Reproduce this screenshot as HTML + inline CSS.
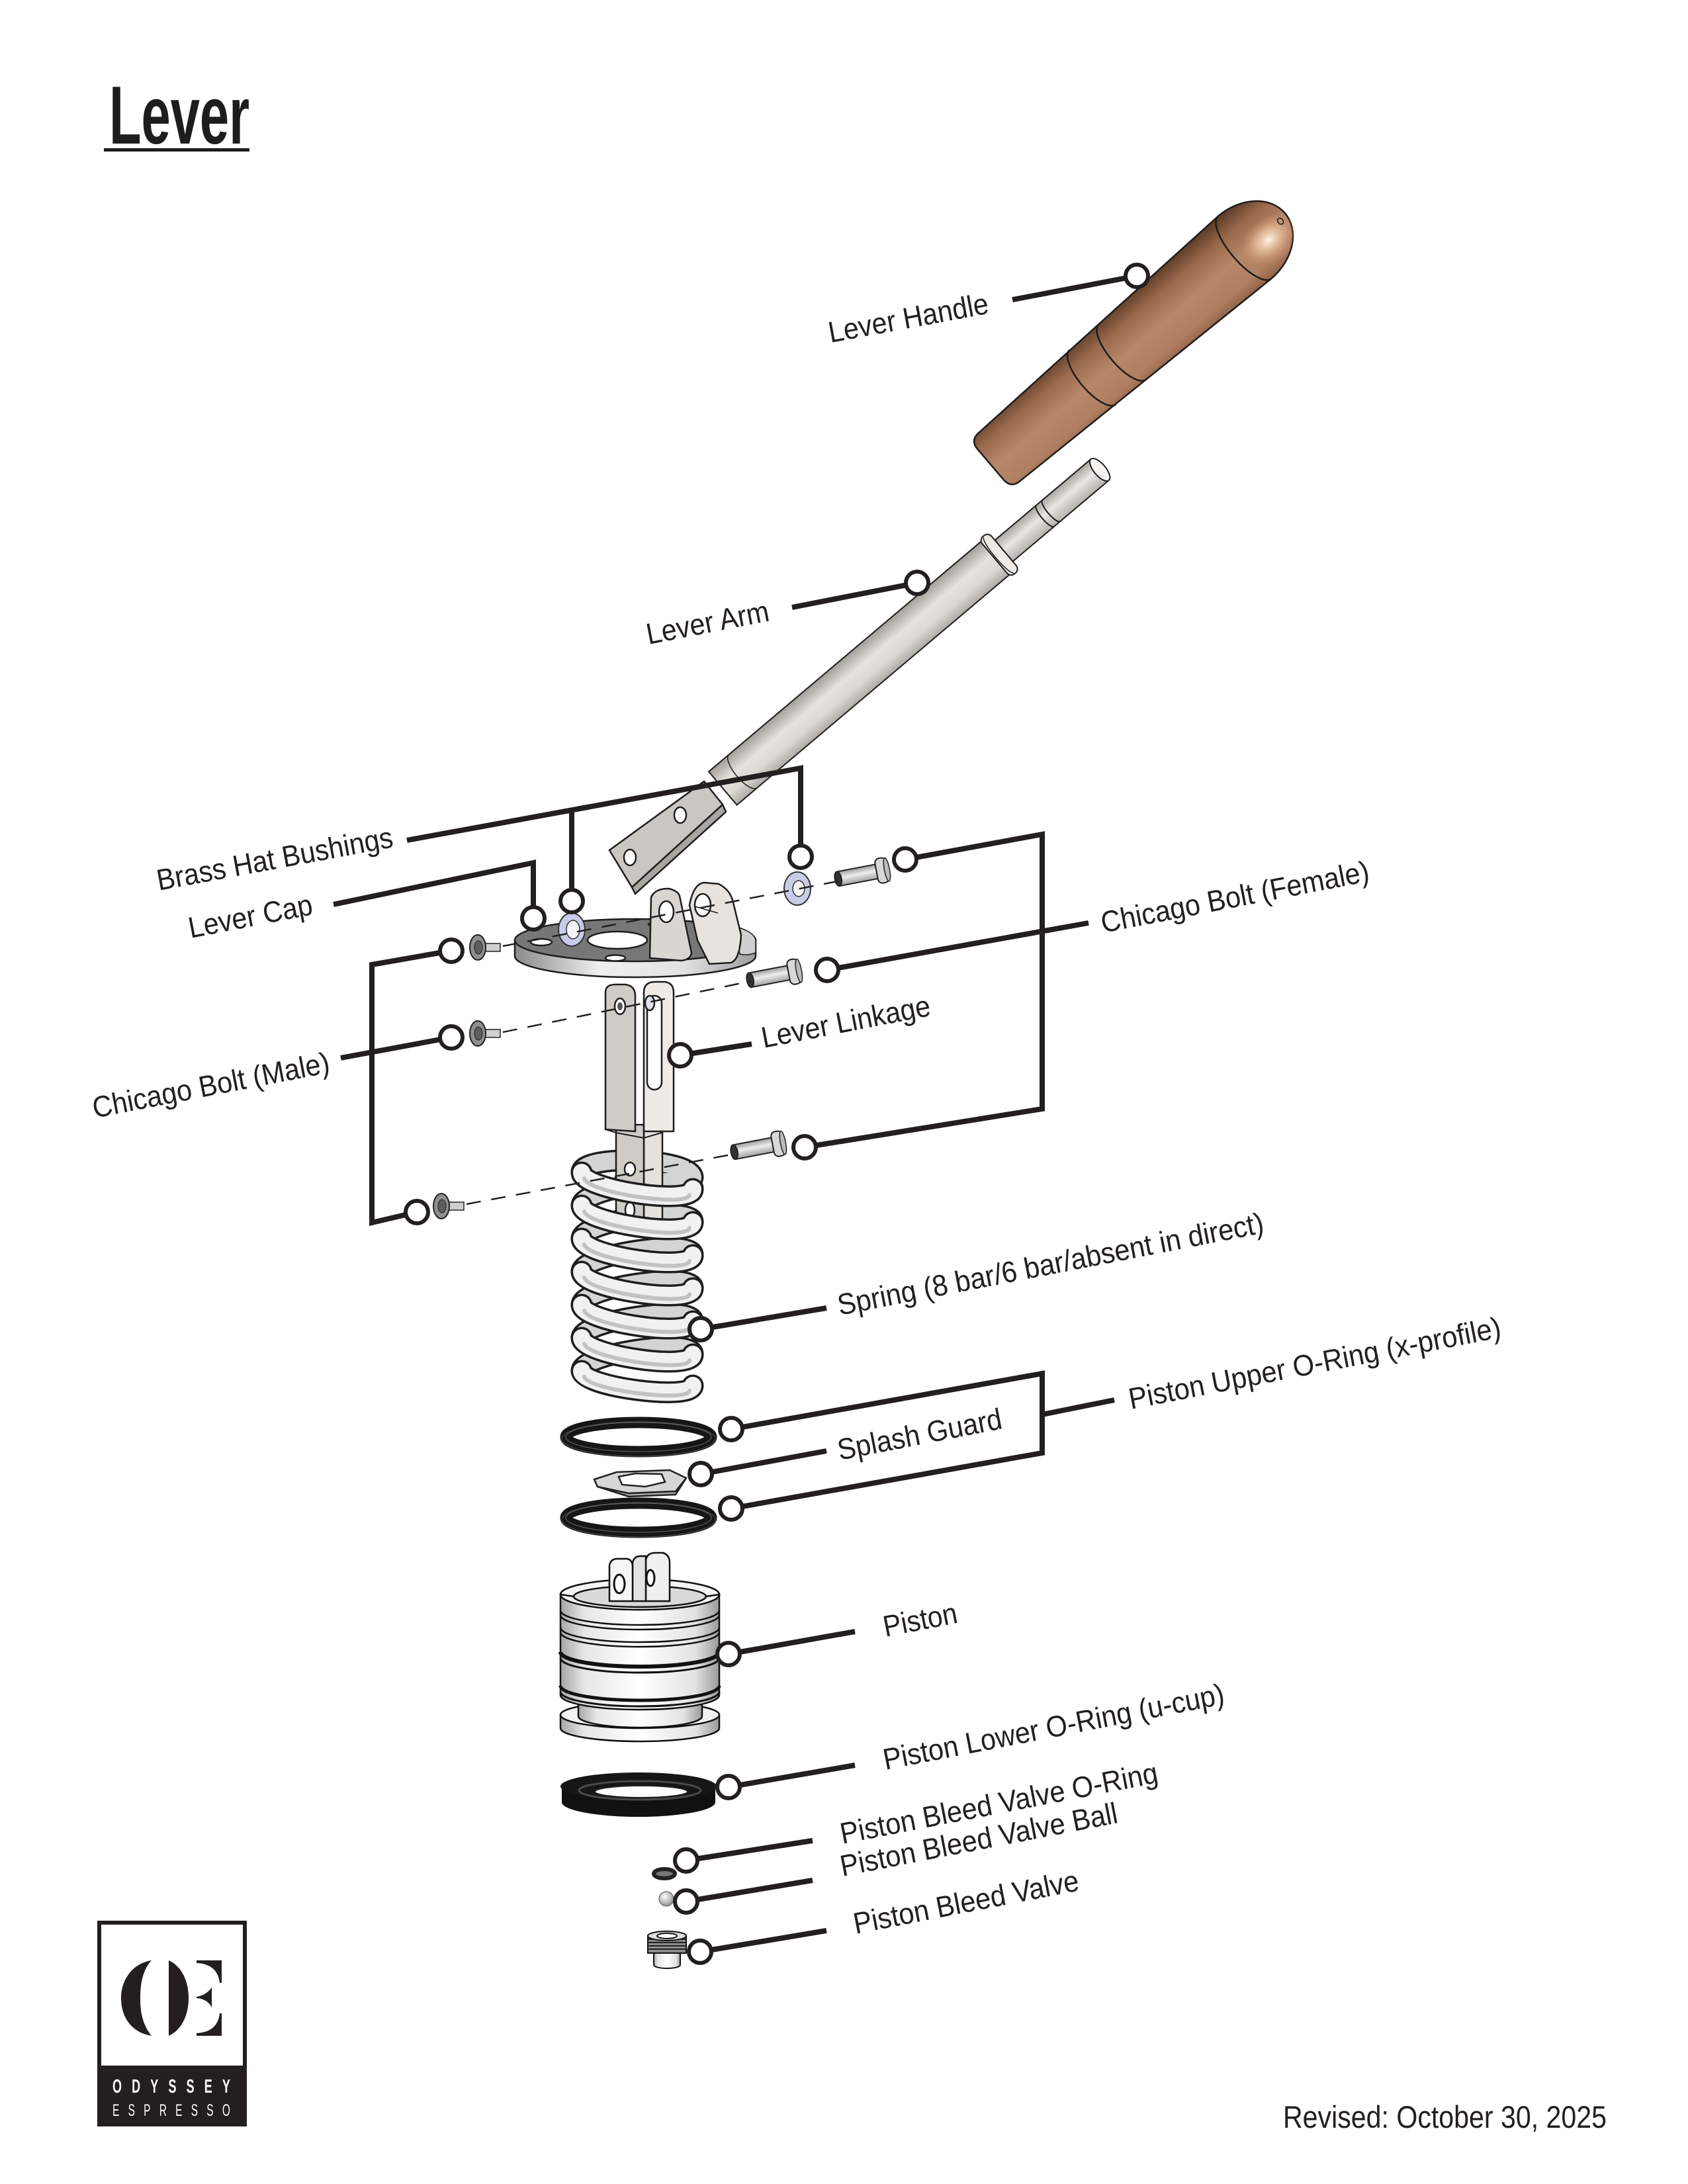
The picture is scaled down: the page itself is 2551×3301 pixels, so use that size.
<!DOCTYPE html>
<html><head><meta charset="utf-8"><title>Lever</title>
<style>html,body{margin:0;padding:0;background:#fff}svg{display:block}</style></head>
<body>
<svg xmlns="http://www.w3.org/2000/svg" width="2551" height="3301" viewBox="0 0 2551 3301">
<defs>
<linearGradient id="wood" gradientUnits="userSpaceOnUse" x1="0" y1="-60" x2="0" y2="60">
<stop offset="0" stop-color="#5f3c28"/><stop offset="0.25" stop-color="#99694b"/><stop offset="0.55" stop-color="#b8876a"/><stop offset="0.85" stop-color="#b07f61"/><stop offset="1" stop-color="#94644a"/></linearGradient>
<radialGradient id="hl" cx="0.5" cy="0.5" r="0.5"><stop offset="0" stop-color="#fff4e6" stop-opacity="1"/><stop offset="0.5" stop-color="#f0c4a0" stop-opacity="0.6"/><stop offset="1" stop-color="#c9916c" stop-opacity="0"/></radialGradient>
<linearGradient id="steel" gradientUnits="userSpaceOnUse" x1="0" y1="-33" x2="0" y2="33">
<stop offset="0" stop-color="#a29e98"/><stop offset="0.4" stop-color="#e6e3df"/><stop offset="0.7" stop-color="#dcd9d4"/><stop offset="1" stop-color="#aeaaa4"/></linearGradient>
<linearGradient id="steel2" gradientUnits="userSpaceOnUse" x1="0" y1="-21" x2="0" y2="21">
<stop offset="0" stop-color="#a9a59f"/><stop offset="0.45" stop-color="#e9e7e3"/><stop offset="1" stop-color="#b4b0aa"/></linearGradient>
<linearGradient id="cylH" x1="0" y1="0" x2="1" y2="0">
<stop offset="0" stop-color="#a5a5a5"/><stop offset="0.15" stop-color="#e6e6e6"/><stop offset="0.5" stop-color="#ffffff"/><stop offset="0.85" stop-color="#e2e2e2"/><stop offset="1" stop-color="#9a9a9a"/></linearGradient>
<linearGradient id="capRim" x1="0" y1="0" x2="1" y2="0">
<stop offset="0" stop-color="#8a8a8a"/><stop offset="0.35" stop-color="#efefef"/><stop offset="0.7" stop-color="#e2e2e2"/><stop offset="1" stop-color="#9d9d9d"/></linearGradient>
<linearGradient id="boltG" gradientUnits="userSpaceOnUse" x1="0" y1="-11" x2="0" y2="11">
<stop offset="0" stop-color="#9a9a9a"/><stop offset="0.45" stop-color="#eeeeee"/><stop offset="1" stop-color="#a0a0a0"/></linearGradient>
<radialGradient id="ball" cx="0.4" cy="0.35" r="0.6"><stop offset="0" stop-color="#ffffff"/><stop offset="1" stop-color="#9a9a9a"/></radialGradient>
</defs>

<!-- Title -->
<text x="165" y="217" font-family="Liberation Sans, Arial, sans-serif" font-weight="bold" font-size="124" fill="#1d1d1b" textLength="212" lengthAdjust="spacingAndGlyphs">Lever</text>
<rect x="157" y="224" width="220" height="5" fill="#1d1d1b"/>

<!-- Logo -->
<rect x="147" y="2903" width="226" height="311" fill="#231f20"/>
<rect x="153" y="2909" width="214" height="213" fill="#fff"/>
<path d="M229,2963 C198,2968 183,2995 183,3020 C183,3048 198,3072 229,3077 C215,3060 212,3040 212,3020 C212,3000 215,2978 229,2963 Z" fill="#231f20"/>
<path d="M255,2963 C275,2972 285,2995 285,3020 C285,3045 275,3068 255,3077 Z" fill="#231f20"/>
<path d="M297,2963 L335,2963 L335,2997 L332,2997 C330,2978 318,2968 297,2967 Z" fill="#231f20"/>
<path d="M297,3018 C310,3016 318,3008 320,3003 L320,3035 C318,3028 310,3021 297,3020 Z" fill="#231f20"/>
<path d="M297,3077 L335,3077 L335,3043 L332,3043 C330,3062 318,3072 297,3073 Z" fill="#231f20"/>
<text transform="translate(170,3163) scale(0.62,1)" font-family="Liberation Sans, Arial, sans-serif" font-weight="bold" font-size="29" fill="#fff" textLength="287" lengthAdjust="spacing">ODYSSEY</text>
<text transform="translate(170,3198) scale(0.62,1)" font-family="Liberation Sans, Arial, sans-serif" font-size="25" fill="#fff" textLength="287" lengthAdjust="spacing">ESPRESSO</text>

<!-- Revised -->
<text x="1939" y="3216" font-family="Liberation Sans, Arial, sans-serif" font-size="47" fill="#231f20" textLength="489" lengthAdjust="spacingAndGlyphs">Revised: October 30, 2025</text>

<!-- Handle -->
<g transform="translate(1497,702) rotate(-40.5)" stroke="#1e1e1e" stroke-width="2.5">
<path d="M18,-48 L505,-62 A80 62 0 0 1 505,62 L18,48 Q0,48 0,30 L0,-30 Q0,-48 18,-48 Z" fill="url(#wood)"/>
<ellipse cx="540" cy="15" rx="48" ry="34" fill="url(#hl)" stroke="none"/>
<path d="M505,-62 A22 62 0 0 0 505,62" fill="none"/>
<path d="M262,-55 A20 55 0 0 0 262,55" fill="none"/>
<path d="M203,-54 A20 54 0 0 0 203,54" fill="none"/>
<ellipse cx="572" cy="5" rx="4" ry="5" fill="none" stroke-width="1.5"/>
</g>

<!-- Lever arm tube -->
<g transform="translate(1100,1185) rotate(-40.2)" stroke="#1e1e1e" stroke-width="2">
<rect x="546" y="-21" width="190" height="42" fill="url(#steel2)"/>
<path d="M628,-21 A6 21 0 0 0 628,21 M640,-21 A6 21 0 0 0 640,21" fill="none"/>
<ellipse cx="736" cy="0" rx="9" ry="21" fill="#f4f2ee"/>
<rect x="-10" y="-33" width="548" height="66" fill="url(#steel)"/>
<rect x="528" y="-37" width="18" height="74" rx="8" fill="#eeebe7"/>
<path d="M536,-35 A6 35 0 0 0 536,35" fill="none" stroke-width="1.5"/>
<path d="M30,-33 A12 33 0 0 0 30,33" fill="none" stroke-width="1.5"/>
</g>
<!-- Lever arm plate -->
<g stroke="#1e1e1e" stroke-width="2.5">
<polygon points="955,1341 1092,1216 1097,1227 960,1351" fill="#a9a5a0"/>
<polygon points="921,1285 1064,1181 1092,1216 955,1341" fill="#cac6c1"/>
<ellipse cx="952" cy="1296" rx="9" ry="12" fill="#fff"/>
<ellipse cx="1028" cy="1232" rx="9" ry="12" fill="#fff"/>
</g>

<!-- Lever cap -->
<g stroke="#1e1e1e" stroke-width="2.5">
<path d="M778,1421 L778,1445 A182 32 0 0 0 1142,1445 L1142,1421 Z" fill="url(#capRim)"/>
<ellipse cx="960" cy="1421" rx="182" ry="32" fill="#777"/>
<ellipse cx="933" cy="1421" rx="45" ry="13" fill="#fff"/>
<ellipse cx="818" cy="1424" rx="16" ry="5" fill="#fff"/>
<ellipse cx="930" cy="1448" rx="15" ry="4.5" fill="#fff"/>
<ellipse cx="990" cy="1397" rx="10" ry="3" fill="#fff"/>
<path d="M1110,1400 Q1140,1408 1142,1421 L1142,1440 Q1130,1445 1118,1442 Z" fill="#cfcfcf" stroke-width="1.5"/>
<path d="M982,1448 L984,1356 Q990,1343 1010,1343 Q1024,1346 1027,1354 L1045,1440 Q1044,1450 1030,1452 Z" fill="#d9d6d1"/>
<ellipse cx="1007" cy="1378" rx="11" ry="16" fill="#fff"/>
<path d="M1054,1421 L1042,1368 Q1048,1336 1064,1334 L1086,1336 Q1104,1345 1108,1364 L1120,1413 Q1118,1450 1105,1455 L1072,1457 Z" fill="#e6e3de"/>
<ellipse cx="1062" cy="1368" rx="12" ry="17" fill="#fff"/>
<path d="M1050,1370 L1085,1380" fill="none" stroke-width="1.5"/>
</g>
<g stroke="#333" stroke-width="2">
<ellipse cx="864" cy="1405" rx="20" ry="25" fill="#c9cce8"/><ellipse cx="866" cy="1405" rx="10" ry="14" fill="#f4f4f8" stroke-width="1.5"/>
<ellipse cx="1205" cy="1343" rx="20" ry="25" fill="#c9cce8"/><ellipse cx="1207" cy="1343" rx="9" ry="12" fill="#f4f4f8" stroke-width="1.5"/>
</g>

<!-- Spring back arcs -->
<g fill="none" stroke-linecap="round">
<g stroke="#1e1e1e" stroke-width="33">
<path d="M1047,1780 C1047,1750 879,1744 879,1772"/>
<path d="M1047,1797 C1047,1771 879,1796 879,1822"/>
<path d="M1047,1847 C1047,1821 879,1846 879,1872"/>
<path d="M1047,1897 C1047,1871 879,1896 879,1922"/>
<path d="M1047,1947 C1047,1921 879,1946 879,1972"/>
<path d="M1047,1997 C1047,1971 879,1996 879,2022"/>
<path d="M1047,2047 C1047,2021 879,2046 879,2072"/>
</g>
<g stroke="#d4d4d4" stroke-width="26">
<path d="M1047,1780 C1047,1750 879,1744 879,1772"/>
<path d="M1047,1797 C1047,1771 879,1796 879,1822"/>
<path d="M1047,1847 C1047,1821 879,1846 879,1872"/>
<path d="M1047,1897 C1047,1871 879,1896 879,1922"/>
<path d="M1047,1947 C1047,1921 879,1946 879,1972"/>
<path d="M1047,1997 C1047,1971 879,1996 879,2022"/>
<path d="M1047,2047 C1047,2021 879,2046 879,2072"/>
</g>
</g>

<!-- Lever linkage -->
<g stroke="#1e1e1e" stroke-width="2.5">
<rect x="973" y="1700" width="28" height="150" fill="#e5e2de"/>
<rect x="931" y="1700" width="42" height="160" fill="#cfcbc6"/>
<ellipse cx="952" cy="1767" rx="8" ry="10" fill="#fff"/>
<ellipse cx="952" cy="1829" rx="7" ry="12" fill="#fff"/>
<path d="M973,1500 Q973,1484 990,1484 L1005,1484 Q1018,1486 1018,1500 L1018,1710 L973,1710 Z" fill="#eeebe7"/>
<rect x="978" y="1505" width="22" height="142" rx="11" fill="#fff"/>
<path d="M915,1500 Q915,1488 930,1488 L945,1488 Q960,1490 960,1505 L960,1710 L915,1707 Z" fill="#cfcbc6"/>
<ellipse cx="937" cy="1521" rx="8" ry="12" fill="#fff"/>
<ellipse cx="937" cy="1521" rx="4" ry="6" fill="#555" stroke="none"/>
<ellipse cx="982" cy="1516" rx="7" ry="11" fill="#dfe0f0"/>
<path d="M915,1707 L931,1712 L973,1720 L1000,1712" fill="none" stroke-width="2"/>
</g>

<!-- Spring front arcs -->
<g fill="none" stroke-linecap="round">
<g stroke="#1e1e1e" stroke-width="33">
<path d="M879,1772 C879,1798 1047,1823 1047,1797"/>
<path d="M879,1822 C879,1848 1047,1873 1047,1847"/>
<path d="M879,1872 C879,1898 1047,1923 1047,1897"/>
<path d="M879,1922 C879,1948 1047,1973 1047,1947"/>
<path d="M879,1972 C879,1998 1047,2023 1047,1997"/>
<path d="M879,2022 C879,2048 1047,2073 1047,2047"/>
<path d="M879,2072 C879,2096 1047,2118 1047,2094"/>
</g>
<g stroke="#f1f1f1" stroke-width="26">
<path d="M879,1772 C879,1798 1047,1823 1047,1797"/>
<path d="M879,1822 C879,1848 1047,1873 1047,1847"/>
<path d="M879,1872 C879,1898 1047,1923 1047,1897"/>
<path d="M879,1922 C879,1948 1047,1973 1047,1947"/>
<path d="M879,1972 C879,1998 1047,2023 1047,1997"/>
<path d="M879,2022 C879,2048 1047,2073 1047,2047"/>
<path d="M879,2072 C879,2096 1047,2118 1047,2094"/>
</g>
<g stroke="#c2c2c2" stroke-width="6">
<path d="M883,1781 C888,1803 1040,1825 1042,1806"/>
<path d="M883,1831 C888,1853 1040,1875 1042,1856"/>
<path d="M883,1881 C888,1903 1040,1925 1042,1906"/>
<path d="M883,1931 C888,1953 1040,1975 1042,1956"/>
<path d="M883,1981 C888,2003 1040,2025 1042,2006"/>
<path d="M883,2031 C888,2053 1040,2075 1042,2056"/>
<path d="M883,2081 C888,2101 1040,2120 1042,2102"/>
</g>
</g>

<!-- Male bolts -->
<g stroke="#222">
<g transform="translate(722,1432)"><rect x="6" y="-6" width="28" height="12" fill="#cfcfcf" stroke-width="1.5"/><ellipse rx="12" ry="19" fill="#8f8f8f" stroke-width="2"/><ellipse cx="1" rx="6" ry="10" fill="#5e5e5e" stroke-width="1"/></g>
<g transform="translate(722,1562)"><rect x="6" y="-6" width="28" height="12" fill="#cfcfcf" stroke-width="1.5"/><ellipse rx="12" ry="19" fill="#8f8f8f" stroke-width="2"/><ellipse cx="1" rx="6" ry="10" fill="#5e5e5e" stroke-width="1"/></g>
<g transform="translate(667,1823)"><rect x="6" y="-6" width="28" height="12" fill="#cfcfcf" stroke-width="1.5"/><ellipse rx="12" ry="19" fill="#8f8f8f" stroke-width="2"/><ellipse cx="1" rx="6" ry="10" fill="#5e5e5e" stroke-width="1"/></g>
</g>
<!-- Female bolts -->
<g stroke="#222" stroke-width="2">
<g transform="translate(1305,1321) rotate(-10.8)"><rect x="-39" y="-11" width="62" height="22" fill="url(#boltG)"/><ellipse cx="-39" rx="5" ry="11" fill="#333"/><rect x="20" y="-19" width="17" height="38" rx="7" fill="#d8d8d8"/><ellipse cx="36" rx="4" ry="18" fill="#bbb" stroke-width="1.5"/></g>
<g transform="translate(1172,1474) rotate(-10.8)"><rect x="-39" y="-11" width="62" height="22" fill="url(#boltG)"/><ellipse cx="-39" rx="5" ry="11" fill="#333"/><rect x="20" y="-19" width="17" height="38" rx="7" fill="#d8d8d8"/><ellipse cx="36" rx="4" ry="18" fill="#bbb" stroke-width="1.5"/></g>
<g transform="translate(1148,1734) rotate(-10.8)"><rect x="-39" y="-11" width="62" height="22" fill="url(#boltG)"/><ellipse cx="-39" rx="5" ry="11" fill="#333"/><rect x="20" y="-19" width="17" height="38" rx="7" fill="#d8d8d8"/><ellipse cx="36" rx="4" ry="18" fill="#bbb" stroke-width="1.5"/></g>
</g>

<!-- Dashed lines -->
<g stroke="#222" stroke-width="2.5" stroke-dasharray="22 16" fill="none">
<path d="M760,1430 L1266,1332"/>
<path d="M760,1560 L1135,1483"/>
<path d="M705,1820 L1111,1744"/>
</g>

<!-- Upper x-ring -->
<ellipse cx="965" cy="2172" rx="110" ry="22" fill="none" stroke="#161616" stroke-width="17"/>
<ellipse cx="965" cy="2172" rx="110" ry="22" fill="none" stroke="#6a6a6a" stroke-width="1"/>
<ellipse cx="965" cy="2175" rx="116" ry="26" fill="none" stroke="#555" stroke-width="1"/>
<!-- Splash guard -->
<g stroke="#222" stroke-width="2.5">
<polygon points="898,2236 903,2247 950,2262 1021,2259 1037,2234 1021,2254 950,2257 903,2247" fill="#aaa"/>
<polygon points="898,2236 932,2225 1012,2222 1037,2234 1021,2254 950,2257 903,2247" fill="#d6d6d6"/>
<polygon points="935,2232 960,2227 1000,2228 1005,2240 975,2247 940,2244" fill="#fff"/>
</g>
<!-- Lower x-ring -->
<ellipse cx="965" cy="2294" rx="110" ry="22" fill="none" stroke="#161616" stroke-width="17"/>
<ellipse cx="965" cy="2294" rx="110" ry="22" fill="none" stroke="#6a6a6a" stroke-width="1"/>
<ellipse cx="965" cy="2297" rx="116" ry="26" fill="none" stroke="#555" stroke-width="1"/>

<!-- Piston -->
<g stroke="#111" stroke-width="2.5">
<path d="M847,2592 L847,2612 A120 20 0 0 0 1087,2612 L1087,2592 Z" fill="url(#cylH)"/>
<ellipse cx="967" cy="2592" rx="120" ry="20" fill="#f2f2f2"/>
<path d="M874,2560 L874,2594 A93 17 0 0 0 1061,2594 L1061,2560 Z" fill="url(#cylH)"/>
<path d="M847,2410 L847,2562 A120 22 0 0 0 1087,2562 L1087,2410 Z" fill="url(#cylH)"/>
<g fill="none">
<path d="M847,2434 A120 22 0 0 0 1087,2434"/>
<path d="M847,2441 A120 22 0 0 0 1087,2441"/>
<path d="M847,2460 A120 22 0 0 0 1087,2460"/>
<path d="M847,2467 A120 22 0 0 0 1087,2467"/>
<path d="M847,2497 A120 22 0 0 0 1087,2497" stroke-width="6"/>
<path d="M847,2506 A120 22 0 0 0 1087,2506" stroke-width="3"/>
<path d="M847,2548 A120 22 0 0 0 1087,2548" stroke-width="5"/>
<path d="M847,2557 A120 22 0 0 0 1087,2557" stroke-width="3"/>
</g>
<ellipse cx="967" cy="2410" rx="120" ry="23" fill="#f4f4f4"/>
<ellipse cx="967" cy="2413" rx="100" ry="16" fill="#d9d9d9"/>
<path d="M976,2420 L976,2358 Q978,2347 990,2347 L1002,2347 Q1012,2350 1012,2362 L1012,2420 Z" fill="#f0f0f0"/>
<path d="M956,2420 L956,2362 Q958,2352 968,2352 L976,2352 L976,2420 Z" fill="#e2e2e2"/>
<path d="M921,2420 L921,2366 Q923,2356 933,2356 L948,2356 Q956,2358 956,2368 L956,2420 Z" fill="#f6f6f6"/>
<ellipse cx="936" cy="2394" rx="8" ry="14" fill="#fff" stroke-width="3"/>
<ellipse cx="983" cy="2385" rx="6" ry="12" fill="#fff" stroke-width="3"/>
<path d="M847,2410 A120 23 0 0 0 1087,2410 L1067,2413 A100 16 0 0 1 867,2413 Z" fill="#f4f4f4"/>
</g>

<!-- U-cup -->
<ellipse cx="965" cy="2724" rx="116" ry="22" fill="#111"/>
<rect x="849" y="2700" width="232" height="24" fill="#111"/>
<ellipse cx="965" cy="2700" rx="118" ry="21" fill="#161616"/>
<ellipse cx="967" cy="2706" rx="92" ry="14" fill="none" stroke="#4a4a4a" stroke-width="3"/>
<ellipse cx="969" cy="2708" rx="70" ry="9" fill="#fff" stroke="#222" stroke-width="2"/>

<!-- Bleed parts -->
<ellipse cx="1004" cy="2832" rx="16" ry="7" fill="#777" stroke="#222" stroke-width="6"/>
<circle cx="1007" cy="2870" r="11" fill="url(#ball)" stroke="#555" stroke-width="1"/>
<g stroke="#111" stroke-width="2">
<path d="M988,2951 L988,2970 A20 5 0 0 0 1028,2970 L1028,2951 Z" fill="url(#cylH)"/>
<rect x="979" y="2926" width="58" height="26" fill="#8d8d8d"/>
<path d="M979,2931 L1037,2931 M979,2936 L1037,2936 M979,2941 L1037,2941 M979,2946 L1037,2946" fill="none" stroke="#222"/>
<ellipse cx="1008" cy="2926" rx="29" ry="7" fill="#ddd"/>
<ellipse cx="1008" cy="2926" rx="15" ry="4" fill="#fff"/>
</g>

<!-- Leader lines -->
<g stroke="#231f20" stroke-width="8" fill="none" stroke-linejoin="miter">
<path d="M1530,453 L1718,417"/>
<path d="M1197,918 L1386,881"/>
<path d="M615,1270 L1210,1161 L1210,1295"/>
<path d="M864,1224 L864,1362"/>
<path d="M504,1367 L806,1304 L806,1388"/>
<path d="M515,1599 L682,1568"/>
<path d="M682,1437 L562,1458 L562,1848 L630,1832"/>
<path d="M1250,1466 L1645,1395"/>
<path d="M1368,1299 L1575,1261 L1575,1676 L1216,1734"/>
<path d="M1028,1595 L1136,1578"/>
<path d="M1059,2009 L1249,1977"/>
<path d="M1105,2160 L1575,2076 L1575,2196 L1105,2280"/>
<path d="M1575,2138 L1684,2116"/>
<path d="M1059,2228 L1249,2193"/>
<path d="M1101,2500 L1292,2466"/>
<path d="M1101,2701 L1292,2668"/>
<path d="M1037,2812 L1228,2782"/>
<path d="M1037,2874 L1228,2842"/>
<path d="M1058,2950 L1249,2918"/>
</g>
<g fill="#fff" stroke="#231f20" stroke-width="6">
<circle cx="1718" cy="417" r="17"/>
<circle cx="1386" cy="881" r="17"/>
<circle cx="1210" cy="1295" r="17"/>
<circle cx="864" cy="1362" r="17"/>
<circle cx="806" cy="1388" r="17"/>
<circle cx="682" cy="1568" r="17"/>
<circle cx="682" cy="1437" r="17"/>
<circle cx="630" cy="1832" r="17"/>
<circle cx="1368" cy="1299" r="17"/>
<circle cx="1250" cy="1466" r="17"/>
<circle cx="1216" cy="1734" r="17"/>
<circle cx="1028" cy="1595" r="17"/>
<circle cx="1059" cy="2009" r="17"/>
<circle cx="1105" cy="2160" r="17"/>
<circle cx="1105" cy="2280" r="17"/>
<circle cx="1059" cy="2228" r="17"/>
<circle cx="1101" cy="2500" r="17"/>
<circle cx="1101" cy="2701" r="17"/>
<circle cx="1037" cy="2812" r="17"/>
<circle cx="1037" cy="2874" r="17"/>
<circle cx="1058" cy="2950" r="17"/>
</g>

<!-- Labels -->
<g font-family="Liberation Sans, Arial, sans-serif" font-size="45" fill="#231f20">
<text x="1255" y="518" transform="rotate(-10.5 1255 518)" textLength="245" lengthAdjust="spacingAndGlyphs">Lever Handle</text>
<text x="980" y="974" transform="rotate(-11 980 974)" textLength="188" lengthAdjust="spacingAndGlyphs">Lever Arm</text>
<text x="240" y="1346" transform="rotate(-10.5 240 1346)" textLength="362" lengthAdjust="spacingAndGlyphs">Brass Hat Bushings</text>
<text x="288" y="1418" transform="rotate(-11 288 1418)" textLength="190" lengthAdjust="spacingAndGlyphs">Lever Cap</text>
<text x="143" y="1690" transform="rotate(-11 143 1690)" textLength="364" lengthAdjust="spacingAndGlyphs">Chicago Bolt (Male)</text>
<text x="1667" y="1410" transform="rotate(-11 1667 1410)" textLength="412" lengthAdjust="spacingAndGlyphs">Chicago Bolt (Female)</text>
<text x="1154" y="1584" transform="rotate(-11 1154 1584)" textLength="259" lengthAdjust="spacingAndGlyphs">Lever Linkage</text>
<text x="1269" y="1988" transform="rotate(-11 1269 1988)" textLength="655" lengthAdjust="spacingAndGlyphs">Spring (8 bar/6 bar/absent in direct)</text>
<text x="1709" y="2130" transform="rotate(-11 1709 2130)" textLength="572" lengthAdjust="spacingAndGlyphs">Piston Upper O-Ring (x-profile)</text>
<text x="1269" y="2207" transform="rotate(-11 1269 2207)" textLength="252" lengthAdjust="spacingAndGlyphs">Splash Guard</text>
<text x="1338" y="2474" transform="rotate(-11 1338 2474)" textLength="113" lengthAdjust="spacingAndGlyphs">Piston</text>
<text x="1338" y="2675" transform="rotate(-11 1338 2675)" textLength="524" lengthAdjust="spacingAndGlyphs">Piston Lower O-Ring (u-cup)</text>
<text x="1273" y="2787" transform="rotate(-11 1273 2787)" textLength="488" lengthAdjust="spacingAndGlyphs">Piston Bleed Valve O-Ring</text>
<text x="1273" y="2836" transform="rotate(-11 1273 2836)" textLength="426" lengthAdjust="spacingAndGlyphs">Piston Bleed Valve Ball</text>
<text x="1293" y="2923" transform="rotate(-11 1293 2923)" textLength="346" lengthAdjust="spacingAndGlyphs">Piston Bleed Valve</text>
</g>
</svg>
</body></html>
